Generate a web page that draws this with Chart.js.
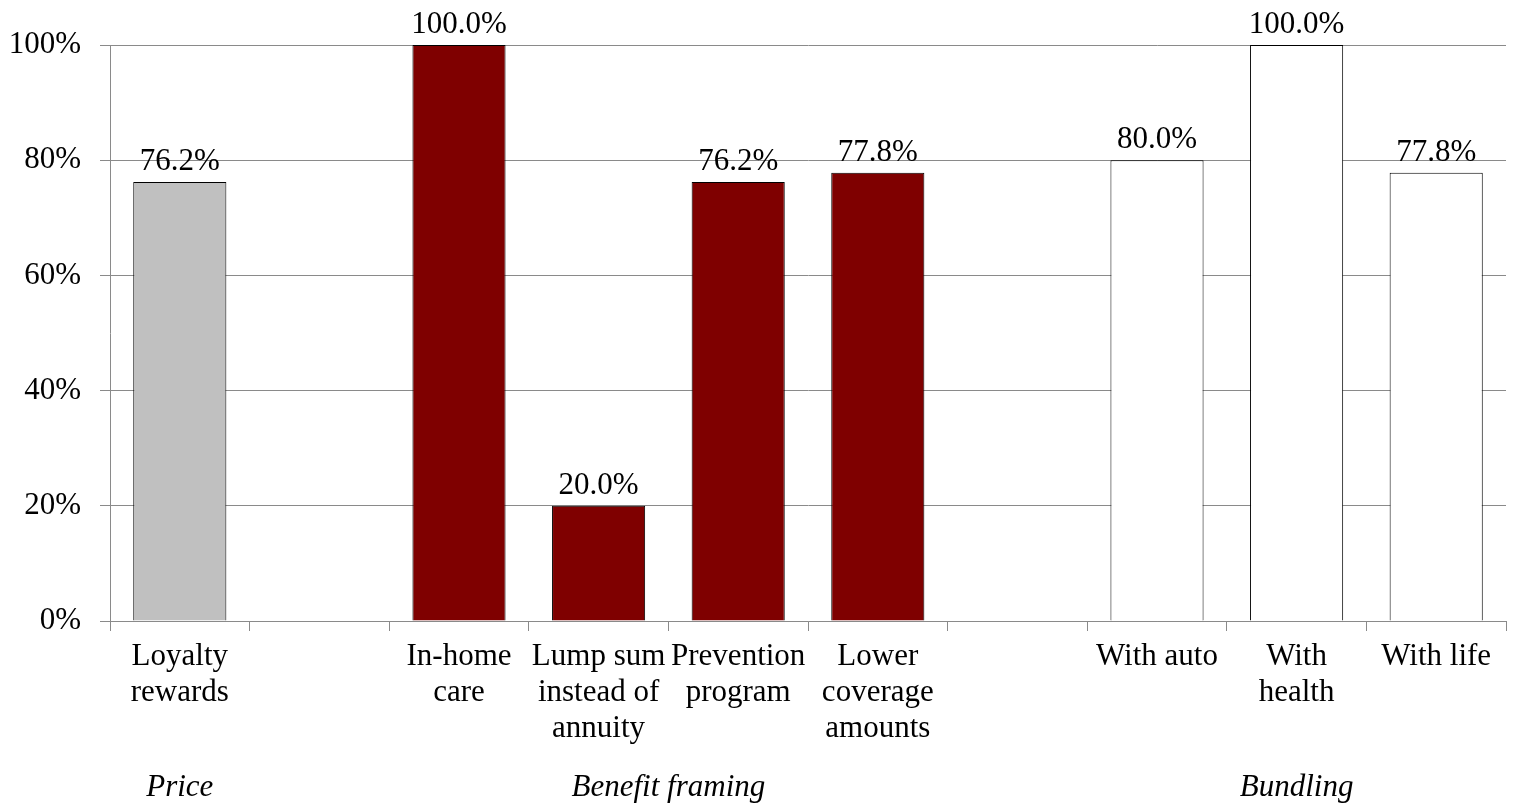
<!DOCTYPE html>
<html>
<head>
<meta charset="utf-8">
<script src="https://cdn.jsdelivr.net/npm/chart.js@4.4.1/dist/chart.umd.min.js"></script>
<style>
  html, body { margin: 0; padding: 0; background: #ffffff; }
  #wrap { width: 1517px; height: 807px; }
</style>
</head>
<body>
<div id="wrap"><canvas id="chart" width="1517" height="807"></canvas></div>
<script>
// Share of respondents by product feature; blank slots separate the groups
const categories = [
  ['Loyalty', 'rewards'],
  '',
  ['In-home', 'care'],
  ['Lump sum', 'instead of', 'annuity'],
  ['Prevention', 'program'],
  ['Lower', 'coverage', 'amounts'],
  '',
  'With auto',
  ['With', 'health'],
  'With life'
];
const values = [76.2, null, 100.0, 20.0, 76.2, 77.8, null, 80.0, 100.0, 77.8];
const barColors = ['#c0c0c0', '#ffffff', '#7f0000', '#7f0000', '#7f0000', '#7f0000',
                   '#ffffff', '#ffffff', '#ffffff', '#ffffff'];
const yTicks = [0, 20, 40, 60, 80, 100];

// Group captions under the category labels: [name, first index, last index]
const groupNames = ['Price', 'Benefit framing', 'Bundling'];
const groupFirst = [0, 2, 7];
const groupLast = [0, 5, 9];

const FONT = '"Liberation Serif", "Times New Roman", serif';
const FONT_SIZE = 31;
const GRID = '#8a8a8a';

const valueLabels = {
  id: 'valueLabels',
  afterDatasetsDraw(chart) {
    const ctx = chart.ctx;
    const meta = chart.getDatasetMeta(0);
    ctx.save();
    ctx.font = FONT_SIZE + 'px ' + FONT;
    ctx.fillStyle = '#000000';
    ctx.textAlign = 'center';
    ctx.textBaseline = 'alphabetic';
    meta.data.forEach((bar, i) => {
      const v = values[i];
      if (v === null) return;
      ctx.fillText(v.toFixed(1) + '%', bar.x, bar.y - 12);
    });
    ctx.restore();
  }
};

const groupCaptions = {
  id: 'groupCaptions',
  afterDraw(chart) {
    const ctx = chart.ctx;
    const x = chart.scales.x;
    ctx.save();
    ctx.font = 'italic ' + FONT_SIZE + 'px ' + FONT;
    ctx.fillStyle = '#000000';
    ctx.textAlign = 'center';
    ctx.textBaseline = 'alphabetic';
    groupNames.forEach((name, g) => {
      const cx = (x.getPixelForValue(groupFirst[g]) + x.getPixelForValue(groupLast[g])) / 2;
      ctx.fillText(name, cx, 796);
    });
    ctx.restore();
  }
};

new Chart(document.getElementById('chart'), {
  type: 'bar',
  data: {
    labels: categories,
    datasets: [{
      data: values,
      backgroundColor: barColors,
      borderColor: '#000000',
      borderWidth: 1,
      borderSkipped: 'bottom',
      categoryPercentage: 1.0,
      barPercentage: 0.667
    }]
  },
  options: {
    responsive: false,
    animation: false,
    devicePixelRatio: 1,
    layout: { padding: { top: 45, right: 11, left: 0, bottom: 0 } },
    plugins: {
      legend: { display: false },
      tooltip: { enabled: false }
    },
    scales: {
      x: {
        offset: true,
        afterFit(scale) { scale.height = 186; },
        grid: {
          offset: true,
          drawOnChartArea: false,
          drawTicks: true,
          tickLength: 10,
          color: GRID,
          lineWidth: 1
        },
        border: { display: true, color: GRID, width: 1 },
        ticks: {
          autoSkip: false,
          maxRotation: 0,
          minRotation: 0,
          padding: 8,
          color: '#000000',
          font: { family: FONT, size: FONT_SIZE, lineHeight: 1.16 }
        }
      },
      y: {
        min: 0,
        max: 100,
        afterFit(scale) { scale.width = 110; },
        afterBuildTicks(scale) { scale.ticks = yTicks.map(v => ({ value: v })); },
        grid: {
          drawTicks: true,
          tickLength: 10,
          color: GRID,
          lineWidth: 1
        },
        border: { display: true, color: GRID, width: 1 },
        ticks: {
          padding: 19,
          color: '#000000',
          font: { family: FONT, size: FONT_SIZE },
          callback: v => v + '%'
        }
      }
    }
  },
  plugins: [valueLabels, groupCaptions]
});
</script>
</body>
</html>
